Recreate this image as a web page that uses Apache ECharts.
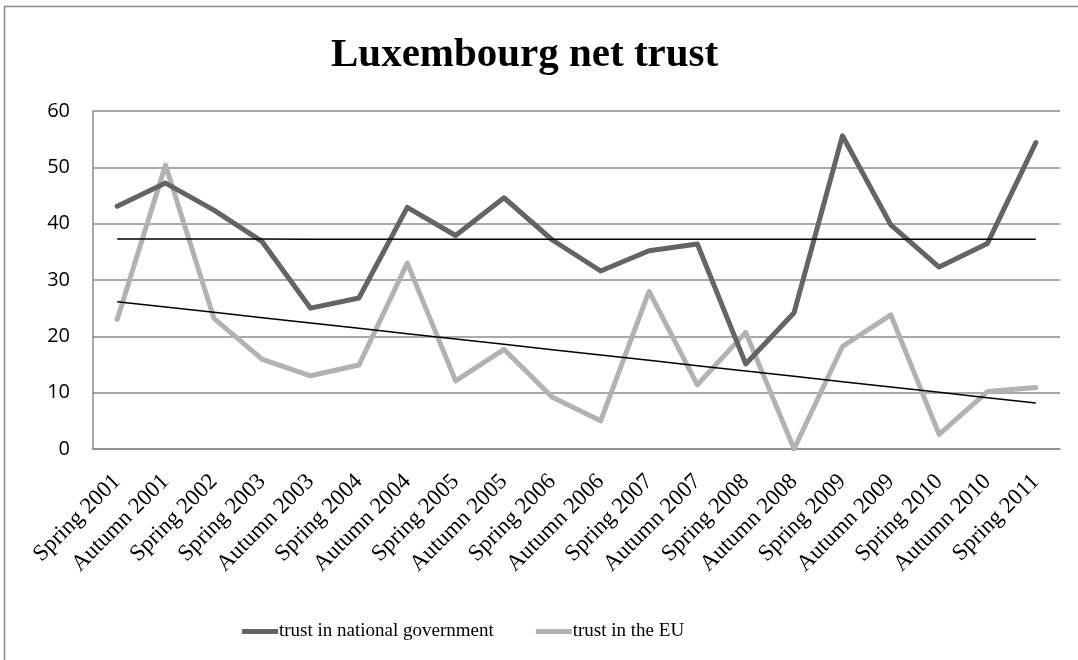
<!DOCTYPE html>
<html>
<head>
<meta charset="utf-8">
<script src="https://cdn.jsdelivr.net/npm/echarts@6/dist/echarts.min.js"></script>
<style>
  html, body { margin: 0; padding: 0; background: #fff; }
  #chart { width: 1078px; height: 660px; }
</style>
</head>
<body>
<div id="chart"></div>
<script>
// Survey waves (Eurobarometer)
const categories = [
  'Spring 2001', 'Autumn 2001', 'Spring 2002', 'Spring 2003', 'Autumn 2003',
  'Spring 2004', 'Autumn 2004', 'Spring 2005', 'Autumn 2005', 'Spring 2006',
  'Autumn 2006', 'Spring 2007', 'Autumn 2007', 'Spring 2008', 'Autumn 2008',
  'Spring 2009', 'Autumn 2009', 'Spring 2010', 'Autumn 2010', 'Spring 2011'
];

// Net trust (% tend to trust minus % tend not to trust)
const trustGovernment = [
  43.1, 47.2, 42.4, 36.8, 25.0, 26.8, 42.9, 37.9, 44.6, 37.1,
  31.6, 35.2, 36.4, 15.1, 24.2, 55.6, 39.8, 32.3, 36.5, 54.4
];
const trustEU = [
  23.0, 50.4, 23.2, 15.9, 13.0, 14.9, 33.0, 12.1, 17.7, 9.2,
  5.0, 28.0, 11.4, 20.7, 0.0, 18.2, 23.8, 2.6, 10.2, 10.9
];

const yTicks = { min: 0, max: 60, interval: 10 };

// Least-squares linear trend over the wave index
function linearTrend(values) {
  const n = values.length;
  let sx = 0, sy = 0, sxx = 0, sxy = 0;
  values.forEach((v, i) => { sx += i; sy += v; sxx += i * i; sxy += i * v; });
  const slope = (n * sxy - sx * sy) / (n * sxx - sx * sx);
  const intercept = (sy - slope * sx) / n;
  return values.map((_, i) => +(intercept + slope * i).toFixed(3));
}

const chart = echarts.init(document.getElementById('chart'));

const serif = '"Liberation Serif", "Times New Roman", serif';
const sans = '"Open Sans", "Liberation Sans", sans-serif';

chart.setOption({
  animation: false,
  backgroundColor: '#ffffff',
  graphic: [{
    type: 'rect',
    silent: true,
    shape: { x: 4.5, y: 6.5, width: 1200, height: 800 },
    style: { fill: 'none', stroke: '#8a8a8a', lineWidth: 1.5 }
  }],
  title: {
    text: 'Luxembourg net trust',
    left: 326,
    top: 30,
    textStyle: {
      fontFamily: serif,
      fontWeight: 'bold',
      fontSize: 41,
      color: '#000'
    }
  },
  grid: { left: 93, right: 18, top: 111, bottom: 211, containLabel: false },
  legend: {
    data: ['trust in national government', 'trust in the EU'],
    left: 237,
    top: 617,
    icon: 'rect',
    itemWidth: 36,
    itemHeight: 5,
    itemGap: 42,
    textStyle: { fontFamily: serif, fontSize: 19, color: '#000', padding: [0, 0, 0, -4] }
  },
  xAxis: {
    type: 'category',
    data: categories,
    boundaryGap: true,
    axisLine: { show: true, lineStyle: { color: '#8c8c8c', width: 1.5 } },
    axisTick: { show: false },
    axisLabel: {
      interval: 0,
      rotate: 45,
      margin: 29,
      fontFamily: serif,
      fontSize: 23,
      color: '#000'
    },
    splitLine: { show: false }
  },
  yAxis: {
    type: 'value',
    min: yTicks.min,
    max: yTicks.max,
    interval: yTicks.interval,
    axisLine: { show: true, lineStyle: { color: '#8c8c8c', width: 1.5 } },
    axisTick: { show: false },
    axisLabel: {
      margin: 23,
      fontFamily: sans,
      fontSize: 20,
      color: '#000'
    },
    splitLine: { show: true, lineStyle: { color: '#8c8c8c', width: 1.5 } }
  },
  series: [
    {
      name: 'trust in national government',
      type: 'line',
      data: trustGovernment,
      showSymbol: false,
      symbol: 'none',
      color: '#646464',
      lineStyle: { color: '#646464', width: 5, cap: 'round', join: 'round' },
      z: 3
    },
    {
      name: 'trust in the EU',
      type: 'line',
      data: trustEU,
      showSymbol: false,
      symbol: 'none',
      color: '#b2b2b2',
      lineStyle: { color: '#b2b2b2', width: 5, cap: 'round', join: 'round' },
      z: 2
    },
    {
      name: 'Linear (trust in national government)',
      type: 'line',
      data: linearTrend(trustGovernment),
      showSymbol: false,
      symbol: 'none',
      lineStyle: { color: '#000', width: 1.5 },
      z: 4
    },
    {
      name: 'Linear (trust in the EU)',
      type: 'line',
      data: linearTrend(trustEU),
      showSymbol: false,
      symbol: 'none',
      lineStyle: { color: '#000', width: 1.5 },
      z: 4
    }
  ]
});
</script>
</body>
</html>
